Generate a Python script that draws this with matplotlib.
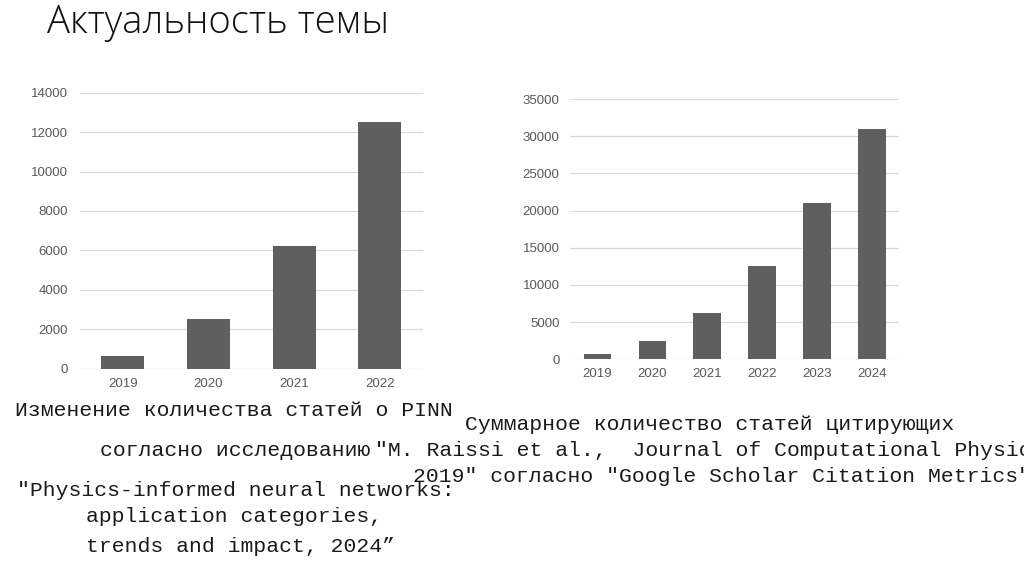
import matplotlib
matplotlib.use("Agg")
import matplotlib.pyplot as plt

# left chart: PINN papers per year
years_left = ["2019", "2020", "2021", "2022"]
papers = [650, 2500, 6200, 12500]

# right chart: citing papers (Google Scholar)
years_right = ["2019", "2020", "2021", "2022", "2023", "2024"]
citations = [670, 2500, 6200, 12500, 21000, 31000]

W, H = 1024, 574
BAR = "#5f5f5f"
GRID = "#d9d9d9"
TICK = "#595959"

fig = plt.figure(figsize=(W / 100, H / 100), dpi=100)
fig.patch.set_facecolor("white")


def px_axes(x0, x1, ytop, ybot):
    return fig.add_axes([x0 / W, 1 - ybot / H, (x1 - x0) / W, (ybot - ytop) / H])


def style(ax, ymax, step, xpad, ypad):
    ax.set_ylim(0, ymax)
    ax.set_yticks(range(0, ymax + 1, step))
    ax.grid(axis="y", color=GRID, linewidth=0.9)
    ax.set_axisbelow(True)
    for s in ax.spines.values():
        s.set_visible(False)
    ax.tick_params(length=0, colors=TICK, labelsize=9.5)
    ax.tick_params(axis="x", pad=xpad)
    ax.tick_params(axis="y", pad=ypad)
    for lab in ax.get_xticklabels() + ax.get_yticklabels():
        lab.set_fontfamily("Liberation Sans")


ax1 = px_axes(80, 422.7, 92.7, 368.7)
ax1.bar(years_left, papers, width=0.5, color=BAR)
ax1.set_xlim(-0.5, len(years_left) - 0.5)
style(ax1, 14000, 2000, 6.5, 8.5)

ax2 = px_axes(570, 899.3, 99, 359.3)
ax2.bar(years_right, citations, width=0.5, color=BAR)
ax2.set_xlim(-0.5, len(years_right) - 0.5)
style(ax2, 35000, 5000, 6.5, 7.5)

# slide title
fig.text(47 / W, 1 - 23 / H, "Актуальность темы", fontsize=27.5,
         family="Open Sans", weight="light", color="#111111", va="center")

# captions (monospace, as on the slide; the right one runs off the slide edge)
captions = [
    (15, 411, "Изменение количества статей о PINN"),
    (465, 425, "Суммарное количество статей цитирующих"),
    (100, 451, "согласно исследованию"),
    (375, 451, "\"M. Raissi et al.,  Journal of Computational Physics,"),
    (413, 476, "2019\" согласно \"Google Scholar Citation Metrics\""),
    (17, 490, "\"Physics-informed neural networks:"),
    (86, 516, "application categories,"),
    (86, 547, "trends and impact, 2024”"),
]
for x, y, s in captions:
    fig.text(x / W, 1 - y / H, s, fontsize=15.4, family="Liberation Mono",
             color="#1a1a1a", va="center", ha="left")

fig.savefig("out.png", dpi=100)
